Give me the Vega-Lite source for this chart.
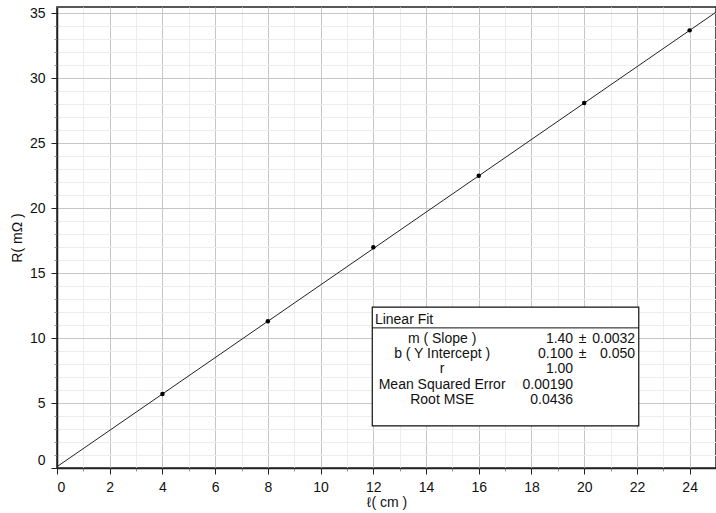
{
  "$schema": "https://vega.github.io/schema/vega-lite/v6.json",
  "width": 659,
  "height": 461,
  "autosize": {"type": "none"},
  "padding": {"left": 57, "top": 7, "right": 0, "bottom": 45},
  "background": "white",
  "config": {
    "font": "Liberation Sans",
    "view": {"stroke": "#222", "strokeWidth": 1.5},
    "axis": {
      "labelFont": "Liberation Sans",
      "titleFont": "Liberation Sans",
      "labelFontSize": 14,
      "titleFontSize": 14,
      "titleFontWeight": "normal",
      "labelColor": "#111",
      "titleColor": "#111",
      "domainColor": "#222",
      "domainWidth": 1.5,
      "labelOverlap": false,
      "tickCount": 200,
      "format": "d",
      "grid": true
    }
  },
  "datasets": {
    "points": [
      {"l": 4, "R": 5.7},
      {"l": 8, "R": 11.3},
      {"l": 12, "R": 17.0},
      {"l": 16, "R": 22.5},
      {"l": 20, "R": 28.1},
      {"l": 24, "R": 33.7}
    ],
    "fit": [
      {"l": 0, "R": 0.1},
      {"l": 25, "R": 35.1}
    ]
  },
  "layer": [
    {
      "data": {"name": "fit"},
      "mark": {"type": "line", "color": "#222", "strokeWidth": 1},
      "encoding": {
        "x": {
          "field": "l", "type": "quantitative",
          "scale": {"domain": [0, 25], "nice": false, "zero": false},
          "axis": {
            "title": "ℓ( cm )",
            "tickCount": 200,
            "format": "d",
            "values": [0,0.5,1,1.5,2,2.5,3,3.5,4,4.5,5,5.5,6,6.5,7,7.5,8,8.5,9,9.5,10,10.5,11,11.5,12,12.5,13,13.5,14,14.5,15,15.5,16,16.5,17,17.5,18,18.5,19,19.5,20,20.5,21,21.5,22,22.5,23,23.5,24,24.5,25],
            "labelExpr": "datum.value % 2 === 0 && datum.value < 25 ? datum.label : ''",
            "gridColor": {"condition": {"test": "datum.value % 2 === 0", "value": "#c6c6c6"}, "value": "#ececec"},
            "tickColor": {"condition": {"test": "datum.value % 2 === 0", "value": "#222"}, "value": "#999"},
            "tickSize": {"condition": {"test": "datum.value % 2 === 0", "value": 6}, "value": 3},
            "labelPadding": 6,
            "labelFlush": true,
            "titlePadding": 1
          }
        },
        "y": {
          "field": "R", "type": "quantitative",
          "scale": {"domain": [0, 35.5], "nice": false, "zero": false},
          "axis": {
            "title": "R( mΩ )",
            "tickCount": 200,
            "format": "d",
            "values": [0,1,2,3,4,5,6,7,8,9,10,11,12,13,14,15,16,17,18,19,20,21,22,23,24,25,26,27,28,29,30,31,32,33,34,35],
            "labelExpr": "datum.value % 5 === 0 ? datum.label : ''",
            "gridColor": {"condition": {"test": "datum.value % 5 === 0", "value": "#c6c6c6"}, "value": "#ececec"},
            "tickColor": {"condition": {"test": "datum.value % 5 === 0", "value": "#222"}, "value": "#999"},
            "tickSize": {"condition": {"test": "datum.value % 5 === 0", "value": 6}, "value": 3},
            "labelOffset": {"condition": {"test": "datum.value === 0", "value": -8}, "value": 0},
            "labelPadding": 6,
            "labelFlush": false,
            "titlePadding": 5
          }
        }
      }
    },
    {
      "data": {"name": "points"},
      "mark": {"type": "circle", "color": "black", "size": 20, "opacity": 1},
      "encoding": {
        "x": {"field": "l", "type": "quantitative"},
        "y": {"field": "R", "type": "quantitative"}
      }
    },
    {
      "data": {"values": [{}]},
      "mark": {"type": "rect", "fill": "white", "stroke": "#111", "strokeWidth": 1.2},
      "encoding": {
        "x": {"datum": 11.96, "type": "quantitative"},
        "x2": {"datum": 22.07},
        "y": {"datum": 12.39, "type": "quantitative"},
        "y2": {"datum": 3.24}
      }
    },
    {
      "data": {"values": [{}]},
      "mark": {"type": "rule", "color": "#111", "strokeWidth": 1},
      "encoding": {
        "x": {"datum": 11.96, "type": "quantitative"},
        "x2": {"datum": 22.07},
        "y": {"datum": 10.79, "type": "quantitative"}
      }
    },
    {
      "data": {"values": [{"t": "Linear Fit"}]},
      "mark": {"type": "text", "align": "left", "baseline": "middle", "fontSize": 14, "color": "#111", "font": "Liberation Sans"},
      "encoding": {
        "x": {"datum": 12.06, "type": "quantitative"},
        "y": {"datum": 11.41, "type": "quantitative"},
        "text": {"field": "t"}
      }
    },
    {
      "data": {"values": [{"t": "m ( Slope )\nb ( Y Intercept )\nr\nMean Squared Error\nRoot MSE"}]},
      "mark": {"type": "text", "align": "center", "baseline": "middle", "fontSize": 14, "lineHeight": 15.25, "lineBreak": "\n", "color": "#111", "font": "Liberation Sans"},
      "encoding": {
        "x": {"datum": 14.61, "type": "quantitative"},
        "y": {"datum": 9.95, "type": "quantitative"},
        "text": {"field": "t"}
      }
    },
    {
      "data": {"values": [{"t": "1.40\n0.100\n1.00\n0.00190\n0.0436"}]},
      "mark": {"type": "text", "align": "right", "baseline": "middle", "fontSize": 14, "lineHeight": 15.25, "lineBreak": "\n", "color": "#111", "font": "Liberation Sans"},
      "encoding": {
        "x": {"datum": 19.58, "type": "quantitative"},
        "y": {"datum": 9.95, "type": "quantitative"},
        "text": {"field": "t"}
      }
    },
    {
      "data": {"values": [{"t": "±\n±"}]},
      "mark": {"type": "text", "align": "left", "baseline": "middle", "fontSize": 14, "lineHeight": 15.25, "lineBreak": "\n", "color": "#111", "font": "Liberation Sans"},
      "encoding": {
        "x": {"datum": 19.79, "type": "quantitative"},
        "y": {"datum": 9.95, "type": "quantitative"},
        "text": {"field": "t"}
      }
    },
    {
      "data": {"values": [{"t": "0.0032\n0.050"}]},
      "mark": {"type": "text", "align": "right", "baseline": "middle", "fontSize": 14, "lineHeight": 15.25, "lineBreak": "\n", "color": "#111", "font": "Liberation Sans"},
      "encoding": {
        "x": {"datum": 21.93, "type": "quantitative"},
        "y": {"datum": 9.95, "type": "quantitative"},
        "text": {"field": "t"}
      }
    }
  ]
}
